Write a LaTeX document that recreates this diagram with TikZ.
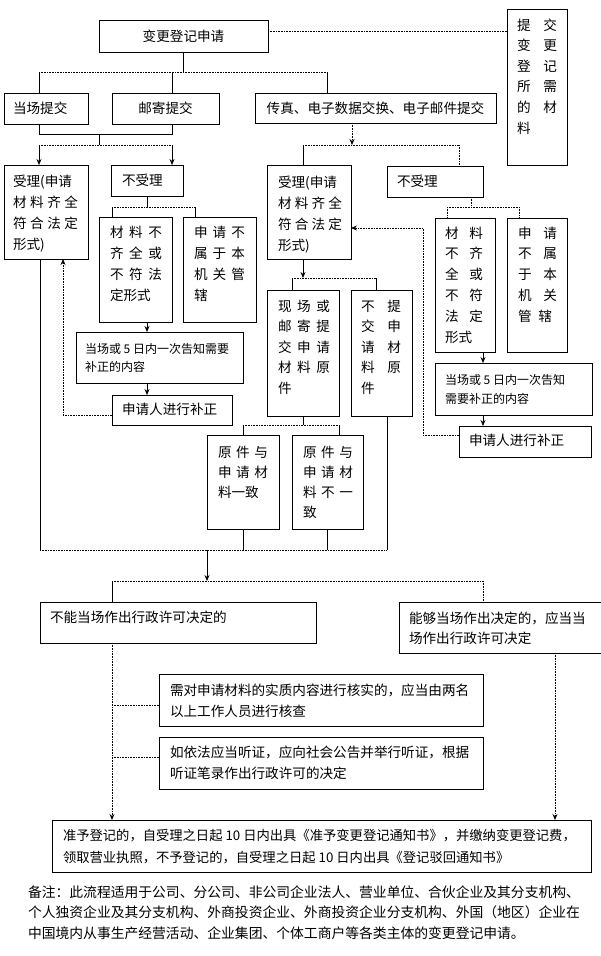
\documentclass[tikz,border=0pt]{standalone}
\usepackage{fontspec}
\setmainfont{Noto Sans CJK SC}
\usetikzlibrary{arrows.meta}
\newcommand\spr[2]{\makebox[#1pt][s]{#2}}
\newcommand\B[6]{\node[box, minimum width={#4-#2}, minimum height={#5-#3}] (#1) at ({(#2+#4)/2},{(#3+#5)/2}) {#6};}
\newcommand\T[6]{\node[txt, font=\fontsize{#4pt}{#5pt}\selectfont] (#1) at (#2,#3) {\parbox[t]{580pt}{#6}};}
\begin{document}
\begin{tikzpicture}[x=1pt,y=-1pt,
 box/.style={draw, line width=0.7pt, inner sep=0pt, outer sep=0pt, font=\fontsize{13.6pt}{20pt}\selectfont},
 txt/.style={inner sep=0pt, outer sep=0pt, anchor=base west},
 sl/.style={line width=0.7pt},
 dl/.style={line width=0.75pt, dash pattern=on 0.9pt off 0.7pt},
 arr/.style={-{Stealth[length=6pt,width=5pt]}}]
\useasboundingbox (0,0) rectangle (600,956);
\fill[white] (0,0) rectangle (600,956);
% boxes
\B{A}{99}{20}{268}{52}{变更登记申请}
\B{R}{507}{9}{567}{165}{}
\B{B1}{4}{93}{88}{124}{}
\B{B2}{112}{93}{219}{124}{邮寄提交}
\B{B3}{255}{93}{496}{123}{传真、电子数据交换、电子邮件提交}
\B{AcL}{4}{165}{88}{259}{}
\B{NoL}{111}{165}{183}{196}{}
\B{MatL}{99}{217}{172}{322}{}
\B{JurL}{183}{217}{256}{322}{}
\B{InfL}{76}{332}{243}{383}{}
\B{CorL}{112}{395}{232}{425}{}
\B{AcM}{267}{165}{351}{259}{}
\B{NoR}{387}{166}{483}{197}{}
\B{MatR}{435}{218}{495}{352}{}
\B{JurR}{507}{218}{567}{352}{}
\B{InfR}{435}{363}{592}{415}{}
\B{CorR}{459}{426}{591}{457}{}
\B{Orig}{267}{290}{339}{416}{}
\B{NoOrig}{351}{290}{412}{416}{}
\B{Same}{207}{435}{279}{529}{}
\B{Diff}{292}{435}{363}{529}{}
\B{NotNow}{40}{602}{316}{643}{}
\B{Now}{399}{602}{603}{653}{}
\B{Check}{159}{674}{483}{726}{}
\B{Hear}{159}{737}{483}{789}{}
\B{Final}{52}{820}{591}{872}{}
% texts
\T{tR}{517}{30}{13.6}{20.6}{\spr{40}{提\hfill 交}\\\spr{40}{变\hfill 更}\\\spr{40}{登\hfill 记}\\\spr{40}{所\hfill 需}\\\spr{40}{的\hfill 材}\\料}
\T{tB1}{13}{113.5}{13.6}{20}{当场提交}
\T{tAcL}{13}{186}{13.6}{21}{受理(申请\\\spr{65}{材\hfill 料\hfill 齐\hfill 全}\\\spr{65}{符\hfill 合\hfill 法\hfill 定}\\形式)}
\T{tNoL}{122}{185.5}{13.6}{20}{不受理}
\T{tMatL}{110}{237}{13.6}{21.3}{\spr{52}{材\hfill 料\hfill 不}\\\spr{52}{齐\hfill 全\hfill 或}\\\spr{52}{不\hfill 符\hfill 法}\\定形式}
\T{tJurL}{194}{237}{13.6}{21.3}{\spr{51}{申\hfill 请\hfill 不}\\\spr{51}{属\hfill 于\hfill 本}\\\spr{51}{机\hfill 关\hfill 管}\\辖}
\T{tInfL}{85}{353.4}{12}{18}{当场或 5 日内一次告知需要\\补正的内容}
\T{tCorL}{122}{414}{13.6}{20}{申请人进行补正}
\T{tAcM}{278}{187}{13.6}{21}{受理(申请\\\spr{64}{材\hfill 料\hfill 齐\hfill 全}\\\spr{64}{符\hfill 合\hfill 法\hfill 定}\\形式)}
\T{tNoR}{397}{186.5}{13.6}{20}{不受理}
\T{tMatR}{445}{238}{13.6}{20.8}{\spr{38}{材\hfill 料}\\\spr{38}{不\hfill 齐}\\\spr{38}{全\hfill 或}\\\spr{38}{不\hfill 符}\\\spr{38}{法\hfill 定}\\形式}
\T{tJurR}{518}{238}{13.6}{20.8}{\spr{39}{申\hfill 请}\\\spr{39}{不\hfill 属}\\\spr{39}{于\hfill 本}\\\spr{39}{机\hfill 关}\\\spr{34}{管\hfill 辖}}
\T{tInfR}{445}{384.4}{12}{19}{当场或 5 日内一次告知\\需要补正的内容}
\T{tCorR}{469}{445.5}{13.6}{20}{申请人进行补正}
\T{tOrig}{278}{311}{13.6}{20.5}{\spr{52}{现\hfill 场\hfill 或}\\\spr{52}{邮\hfill 寄\hfill 提}\\\spr{52}{交\hfill 申\hfill 请}\\\spr{52}{材\hfill 料\hfill 原}\\件}
\T{tNoOrig}{361}{311}{13.6}{20.5}{\spr{40}{不\hfill 提}\\\spr{40}{交\hfill 申}\\\spr{40}{请\hfill 材}\\\spr{40}{料\hfill 原}\\件}
\T{tSame}{218}{457}{13.6}{20.3}{\spr{50}{原\hfill 件\hfill 与}\\\spr{50}{申\hfill 请\hfill 材}\\料一致}
\T{tDiff}{303}{457}{13.6}{20.3}{\spr{50}{原\hfill 件\hfill 与}\\\spr{50}{申\hfill 请\hfill 材}\\\spr{50}{料\hfill 不\hfill 一}\\致}
\T{tNotNow}{50}{622}{13.6}{20}{不能当场作出行政许可决定的}
\T{tNow}{409}{623}{13.6}{20.3}{能够当场作出决定的，应当当\\场作出行政许可决定}
\T{tCheck}{170}{695}{13.6}{21}{需对申请材料的实质内容进行核实的，应当由两名\\以上工作人员进行核查}
\T{tHear}{170}{757}{13.6}{21}{如依法应当听证，应向社会公告并举行听证，根据\\听证笔录作出行政许可的决定}
\T{tFinal}{63}{840}{13.3}{22}{准予登记的，自受理之日起 10 日内出具《准予变更登记通知书》，并缴纳变更登记费，\\领取营业执照，不予登记的，自受理之日起 10 日内出具《登记驳回通知书》}
\T{tNote}{28}{897}{13.8}{20.5}{备注：此流程适用于公司、分公司、非公司企业法人、营业单位、合伙企业及其分支机构、\\个人独资企业及其分支机构、外商投资企业、外商投资企业分支机构、外国（地区）企业在\\中国境内从事生产经营活动、企业集团、个体工商户等各类主体的变更登记申请。}
% connectors: top
\coordinate (j1) at (39,72); \coordinate (j2) at (172,72); \coordinate (j3) at (327,72);
\draw[sl] (A.south) -- (A.south |- j1);
\draw[dl] (j1) -- (j3);
\draw[sl] (j1) -- (j1 |- B1.north);
\draw[sl] (j2) -- (j2 |- B2.north);
\draw[sl] (j3) -- (j3 |- B3.north);
\coordinate (r1) at (268,31);
\draw[dl] (r1) -- (r1 -| R.west);
% left join
\coordinate (k1) at (39,134); \coordinate (k2) at (172,134);
\coordinate (k3) at (99,134); \coordinate (k4) at (99,145);
\draw[sl] (k1 |- B1.south) -- (k1) -- (k2) -- (k2 |- B2.south);
\draw[sl] (k3) -- (k4);
\coordinate (m1) at (39,145); \coordinate (m2) at (172,145);
\draw[dl] (m1) -- (m2);
\draw[sl,arr] (m1) -- (m1 |- AcL.north);
\draw[sl,arr] (m2) -- (m2 |- NoL.north);
% right split
\coordinate (n0) at (352,145); \coordinate (n1) at (303,145); \coordinate (n2) at (459,145);
\draw[dl,arr] (n0 |- B3.south) -- (n0);
\draw[dl] (n1) -- (n2);
\draw[sl] (n1) -- (n1 |- AcM.north);
\draw[dl] (n2) -- (n2 |- NoR.north);
% left refusal
\coordinate (p1) at (112,207); \coordinate (p2) at (195,207);
\draw[sl] (NoL.south) -- (NoL.south |- p1);
\draw[dl] (p1) -- (p2);
\draw[sl] (p1) -- (p1 |- MatL.north);
\draw[sl] (p2) -- (p2 |- JurL.north);
% right refusal
\coordinate (q0) at (471,207); \coordinate (q1) at (447,207); \coordinate (q2) at (519,207);
\draw[dl] (q0 |- NoR.south) -- (q0);
\draw[dl] (q1) -- (q2);
\draw[dl] (q1) -- (q1 |- MatR.north);
\draw[dl] (q2) -- (q2 |- JurR.north);
% left correction loop
\coordinate (s1) at (147,0);
\draw[sl,arr] (MatL.south -| s1) -- (InfL.north -| s1);
\draw[sl,arr] (InfL.south -| s1) -- (CorL.north -| s1);
\coordinate (f1) at (63,415);
\draw[dl,arr] (CorL.west |- f1) -- (f1) -- (f1 |- AcL.south);
% right correction loop
\coordinate (s2) at (483,0);
\draw[sl,arr] (MatR.south -| s2) -- (InfR.north -| s2);
\draw[sl,arr] (InfR.south -| s2) -- (CorR.north -| s2);
\coordinate (f2) at (423,435); \coordinate (f3) at (423,228);
\draw[dl,arr] (CorR.west |- f2) -- (f2) -- (f3) -- (f3 -| AcM.east);
% middle
\coordinate (u0) at (303,0); \coordinate (u1) at (292,278); \coordinate (u2) at (376,278);
\draw[sl,arr] (AcM.south -| u0) -- (u1 -| u0);
\draw[dl] (u1) -- (u2);
\draw[sl] (u1) -- (u1 |- Orig.north);
\draw[sl] (u2) -- (u2 |- NoOrig.north);
\coordinate (v1) at (243,425); \coordinate (v2) at (339,425);
\draw[sl] (Orig.south -| u0) -- (v1 -| u0);
\draw[dl] (v1) -- (v2);
\draw[sl] (v1) -- (v1 |- Same.north);
\draw[sl] (v2) -- (v2 |- Diff.north);
\coordinate (w1) at (40,550); \coordinate (w2) at (387,550); \coordinate (w3) at (327,550);
\draw[sl] (AcL.south -| w1) -- (w1);
\draw[sl] (Same.south -| v1) -- (v1 |- w1);
\draw[sl] (Diff.south -| w3) -- (w3);
\draw[sl] (NoOrig.south -| w2) -- (w2);
\draw[dl] (w1) -- (w2);
\coordinate (x0) at (207,550); \coordinate (x1) at (112,581); \coordinate (x2) at (483,581);
\draw[sl,arr] (x0) -- (x0 |- x1);
\draw[dl] (x1) -- (x2);
\draw[sl] (x1) -- (x1 |- NotNow.north);
\draw[dl] (x2) -- (x2 |- Now.north);
% bottom
\coordinate (y1) at (112,0);
\draw[dl,arr] (NotNow.south -| y1) -- (Final.north -| y1);
\coordinate (c1) at (112,705); \coordinate (c2) at (112,757);
\draw[dl] (c1) -- (c1 -| Check.west);
\draw[dl] (c2) -- (c2 -| Hear.west);
\coordinate (y2) at (555,0);
\draw[dl,arr] (Now.south -| y2) -- (Final.north -| y2);
\end{tikzpicture}
\end{document}
